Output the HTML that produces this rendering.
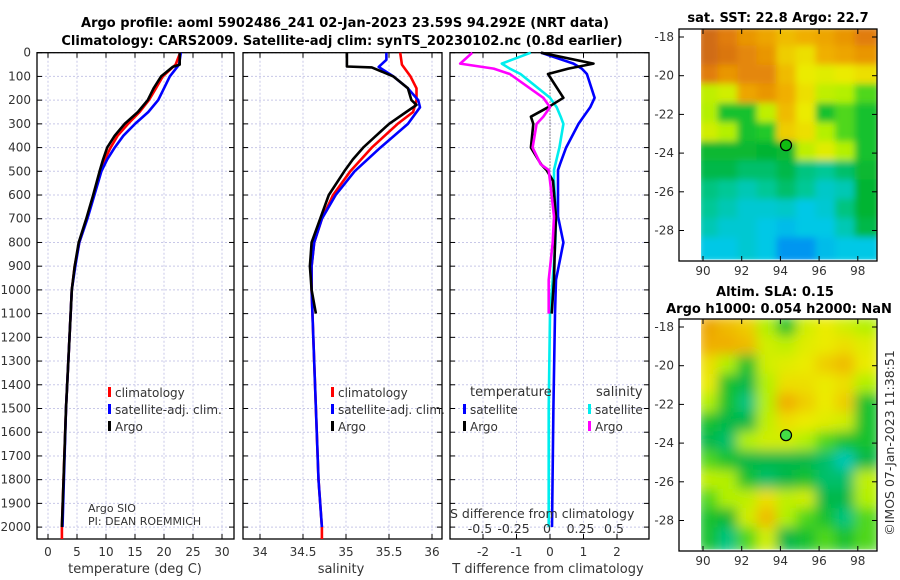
<!DOCTYPE html>
<html><head><meta charset="utf-8"><style>
body{margin:0;background:#fff;width:900px;height:580px;overflow:hidden}
svg{display:block;font-family:"DejaVu Sans","Liberation Sans",sans-serif}
.t{font-size:12px;fill:#333}
.b{font-weight:bold;font-size:13px;fill:#000}
.g{stroke:#c8c8e8;stroke-width:1;stroke-dasharray:2,2}
</style></head><body>
<svg id="c" width="900" height="580">
<g>
<text class="b" x="345" y="27" text-anchor="middle">Argo profile: aoml 5902486_241 02-Jan-2023 23.59S 94.292E (NRT data)</text>
<text class="b" x="342" y="45" text-anchor="middle">Climatology: CARS2009. Satellite-adj clim: synTS_20230102.nc (0.8d earlier)</text>
</g>
</svg>
<script>
// ---------- data ----------
const tDepthArgo=[0,50,60,100,150,200,250,300,350,400,450,500,600,700,800,900,1000,1200,1500,2000];
const tArgo=[22.7,22.7,21.5,19.5,18.2,17.2,15.5,13.2,11.5,10.2,9.5,8.9,7.8,6.6,5.3,4.6,4.1,3.7,3.1,2.4];
const tDepthClim=[0,50,100,150,200,250,300,350,400,450,500,600,700,800,900,1000,1200,1500,2000,2050];
const tClim=[22.8,22.0,19.8,18.6,17.4,15.8,13.8,12.0,10.8,9.8,9.0,7.9,6.7,5.4,4.6,4.1,3.7,3.1,2.4,2.4];
const tDepthSat=[0,50,100,150,200,250,300,350,400,450,500,600,700,800,900,1000,1200,1500,2000];
const tSat=[22.9,22.6,21.0,20.0,19.0,17.3,15.0,13.0,11.5,10.2,9.2,8.0,6.8,5.4,4.7,4.1,3.7,3.1,2.5];
const sDepthArgo=[0,58,62,100,150,200,220,250,300,350,400,450,500,600,700,800,900,1000,1100];
const sArgo=[35.01,35.01,35.3,35.55,35.72,35.76,35.82,35.7,35.5,35.35,35.2,35.08,34.98,34.8,34.7,34.6,34.58,34.6,34.65];
const sDepthClim=[0,50,100,150,200,250,300,400,500,600,700,800,900,1000,1200,1500,1800,2000,2050];
const sClim=[35.63,35.65,35.75,35.82,35.82,35.78,35.6,35.3,35.05,34.85,34.72,34.63,34.6,34.6,34.62,34.65,34.68,34.72,34.72];
const sDepthSat=[0,30,60,100,150,200,230,300,400,500,600,700,800,900,1000,1200,1500,1800,2000];
const sSat=[35.47,35.47,35.38,35.55,35.72,35.84,35.86,35.72,35.4,35.1,34.88,34.72,34.63,34.6,34.6,34.62,34.65,34.68,34.72];
const dDepth=[0,46,67,90,190,230,270,300,400,470,495,540,690,800,958,1100,1500,2000];
const dTSat=[-0.27,0.7,0.95,1.1,1.33,1.2,1.0,0.85,0.48,0.3,0.24,0.24,0.24,0.4,0.18,0.15,0.1,0.06];
const dTArgo=[-0.27,1.3,0.55,-0.06,0.4,-0.06,-0.57,-0.5,-0.57,-0.27,-0.1,0.09,0.18,0.15,0.12,0.05];
const dSSat=[-0.144,-0.36,-0.3,-0.22,0.0,0.05,0.08,0.1,0.07,0.04,0.03,0.03,0.045,0.04,0.02,0.0,-0.01,-0.01];
const dSArgo=[-0.58,-0.67,-0.42,-0.3,-0.05,0.0,-0.05,-0.1,-0.13,-0.07,-0.01,0.0,0.03,0.02,-0.01,-0.01];
const depthTicks=[0,100,200,300,400,500,600,700,800,900,1000,1100,1200,1300,1400,1500,1600,1700,1800,1900,2000];
const tTicks=[0,5,10,15,20,25,30];
const sTicks=[34,34.5,35,35.5,36];
const dtTicks=[-2,-1,0,1,2];
const dsTicks=[-0.5,-0.25,0,0.25,0.5];
const dsTickLabels=["-0.5","-0.25","0","0.25","0.5"];
const latTicks=[-18,-20,-22,-24,-26,-28];
const lonTicks=[90,92,94,96,98];
const sstGrid=[
[0.95,0.9,0.85,0.82,0.78,0.8,0.82,0.85,0.9],
[0.95,0.92,0.88,0.85,0.75,0.72,0.8,0.82,0.85],
[0.9,0.85,0.88,0.88,0.78,0.7,0.68,0.7,0.72],
[0.62,0.65,0.82,0.85,0.8,0.72,0.62,0.6,0.55],
[0.6,0.5,0.5,0.62,0.78,0.7,0.5,0.55,0.5],
[0.65,0.6,0.5,0.52,0.75,0.72,0.6,0.55,0.5],
[0.48,0.48,0.48,0.47,0.48,0.62,0.68,0.6,0.5],
[0.45,0.45,0.42,0.42,0.45,0.4,0.38,0.42,0.48],
[0.4,0.38,0.35,0.38,0.42,0.38,0.33,0.35,0.47],
[0.38,0.35,0.32,0.32,0.33,0.3,0.32,0.4,0.47],
[0.35,0.32,0.32,0.3,0.28,0.3,0.3,0.35,0.45],
[0.3,0.3,0.32,0.3,0.22,0.22,0.28,0.3,0.3]];
const slaGrid=[
[0.82,0.78,0.75,0.6,0.5,0.65,0.7,0.65,0.6],
[0.8,0.8,0.78,0.65,0.62,0.68,0.7,0.72,0.68],
[0.72,0.6,0.5,0.65,0.68,0.7,0.75,0.78,0.7],
[0.7,0.5,0.45,0.6,0.72,0.72,0.7,0.72,0.6],
[0.6,0.5,0.4,0.6,0.8,0.75,0.7,0.75,0.5],
[0.5,0.45,0.45,0.62,0.72,0.7,0.68,0.65,0.5],
[0.45,0.42,0.6,0.65,0.65,0.6,0.55,0.5,0.5],
[0.55,0.5,0.45,0.45,0.45,0.45,0.42,0.35,0.45],
[0.62,0.6,0.5,0.42,0.45,0.5,0.42,0.42,0.62],
[0.55,0.6,0.62,0.72,0.62,0.65,0.45,0.45,0.6],
[0.5,0.48,0.65,0.78,0.6,0.55,0.5,0.4,0.55],
[0.5,0.4,0.55,0.65,0.45,0.5,0.55,0.5,0.55]];
const argoLon=94.29, argoLat=-23.59;

// ---------- helpers ----------
const NS="http://www.w3.org/2000/svg", svg=document.getElementById('c');
function mk(tag,at,parent){const e=document.createElementNS(NS,tag);for(const k in at)e.setAttribute(k,at[k]);(parent||svg).appendChild(e);return e;}
function txt(s,x,y,cls,anchor,parent){const e=mk('text',{x:x,y:y,class:cls||'t','text-anchor':anchor||'middle'},parent);e.textContent=s;return e;}
const top0=52.7, yTop=52.7, yBot=539;
const yD=d=>top0+d*0.2372;
const xT=v=>48+v*5.8;
const xS=v=>260+(v-34)*86;
const xDT=v=>550+v*33.5;
const xDS=v=>550+v*134;

function panel(name,x0,x1,xticks,xf,labels,showY){
  const g=mk('g',{});
  
  
  depthTicks.forEach(d=>{mk('line',{x1:x0,x2:x1,y1:yD(d),y2:yD(d),class:'g'},g);
    mk('line',{x1:x0,x2:x0+5,y1:yD(d),y2:yD(d),stroke:'#000'},g);mk('line',{x1:x1-5,x2:x1,y1:yD(d),y2:yD(d),stroke:'#000'},g);
    if(showY)txt(String(d),31,yD(d)+4,'t','end',g);});
  xticks.forEach((v,i)=>{const x=xf(v);mk('line',{x1:x,x2:x,y1:yTop,y2:yBot,class:'g'},g);
    mk('line',{x1:x,x2:x,y1:yBot-5,y2:yBot,stroke:'#000'},g);mk('line',{x1:x,x2:x,y1:yTop,y2:yTop+5,stroke:'#000'},g);
    if(labels)txt(labels[i],x,556,'t','middle',g);});
  mk('rect',{x:x0,y:yTop,width:x1-x0,height:yBot-yTop,fill:'none',stroke:'#000','stroke-width':1.3},g);
  return g;
}
function line(g,name,xs,ds,xf,color,w){
  const p=mk('polyline',{fill:'none',stroke:color,'stroke-width':w||2.6,'stroke-linejoin':'round',points:xs.map((v,i)=>xf(v).toFixed(1)+','+yD(ds[i]).toFixed(1)).join(' ')},g);
  
  
}
function legend(g,x,y,items){items.forEach((it,i)=>{mk('rect',{x:x,y:y+i*17-8,width:3,height:10,fill:it[1]},g);txt(it[0],x+7,y+i*17+2,'t','start',g);});}

// ---------- panel 1 ----------
const p1=panel('temperature-panel',37,234,tTicks,xT,tTicks.map(String),true);
line(p1,'temp-climatology',tClim,tDepthClim,xT,'#f00');
line(p1,'temp-satellite',tSat,tDepthSat,xT,'#00f');
line(p1,'temp-argo',tArgo,tDepthArgo,xT,'#000');
legend(p1,108,395,[['climatology','#f00'],['satellite-adj. clim.','#00f'],['Argo','#000']]);
txt('Argo SIO',88,512,'t','start',p1).style.fontSize='11px';
txt('PI: DEAN ROEMMICH',88,525,'t','start',p1).style.fontSize='11px';
txt('temperature (deg C)',135,573,'t','middle',p1).style.fontSize='13px';

// ---------- panel 2 ----------
const p2=panel('salinity-panel',243,442,sTicks,xS,sTicks.map(String),false);
line(p2,'sal-climatology',sClim,sDepthClim,xS,'#f00');
line(p2,'sal-satellite',sSat,sDepthSat,xS,'#00f');
line(p2,'sal-argo',sArgo,sDepthArgo,xS,'#000');
legend(p2,331,395,[['climatology','#f00'],['satellite-adj. clim.','#00f'],['Argo','#000']]);
txt('salinity',341,573,'t','middle',p2).style.fontSize='13px';

// ---------- panel 3 ----------
const p3=panel('difference-panel',450,649,dtTicks,xDT,null,false);
dtTicks.forEach(v=>{if(v!==0)txt(String(v),xDT(v),556,'t','middle',p3);});
txt('0',xDT(0),556,'t','middle',p3);
mk('line',{x1:550,x2:550,y1:yD(80),y2:yD(700),stroke:'#333','stroke-dasharray':'1,2'},p3);
line(p3,'t-diff-satellite',dTSat,dDepth.slice(0,dTSat.length),xDT,'#00f');
line(p3,'s-diff-satellite',dSSat,dDepth.slice(0,dSSat.length),xDS,'#0ee');
line(p3,'t-diff-argo',dTArgo,dDepth.slice(0,dTArgo.length),xDT,'#000');
line(p3,'s-diff-argo',dSArgo,dDepth.slice(0,dSArgo.length),xDS,'#f0f');
txt('temperature',470,396,'t','start',p3).style.fontSize='13px';
txt('salinity',596,396,'t','start',p3).style.fontSize='13px';
legend(p3,463,412,[['satellite','#00f'],['Argo','#000']]);
legend(p3,588,412,[['satellite','#0ee'],['Argo','#f0f']]);
txt('S difference from climatology',450,518,'t','start',p3).style.fontSize='12.5px';
dsTicks.forEach((v,i)=>txt(dsTickLabels[i],xDS(v)-3,533,'t','middle',p3).style.fontSize='12.5px');
txt('T difference from climatology',548,573,'t','middle',p3).style.fontSize='13px';

// ---------- maps ----------
function cmap(v){const st=[[0.1,[0,60,255]],[0.22,[0,150,240]],[0.3,[0,200,230]],[0.38,[0,200,150]],[0.47,[0,180,50]],[0.53,[40,205,40]],[0.6,[180,240,0]],[0.7,[235,235,0]],[0.8,[240,175,0]],[0.9,[225,125,10]],[1.0,[190,90,30]]];
  if(v<=st[0][0])return 'rgb('+st[0][1]+')';
  for(let i=1;i<st.length;i++)if(v<=st[i][0]){const a=st[i-1],b=st[i],f=(v-a[0])/(b[0]-a[0]);return 'rgb('+a[1].map((c,k)=>Math.round(c+(b[1][k]-c)*f)).join(',')+')';}
  return 'rgb(190,90,30)';}
function map(name,grid,boxTop,boxBot,lat18,filt){
  const g=mk('g',{});
  
  
  const pxd=19.35, xL=lon=>703+(lon-90)*pxd, yL=lat=>lat18+(-18-lat)*pxd;
  const dataTop=yL(-17.6), x0=xL(89.9), x1=877;
  const cg=mk('g',{'clip-path':'url(#clip'+name+')'},g);
  const cp=mk('clipPath',{id:'clip'+name},g);mk('rect',{x:x0,y:dataTop,width:x1-x0,height:yL(-29.5)-dataTop},cp);
  const inner=mk('g',{filter:'url(#'+filt+')'},cg);
  const rows=grid.length, cols=grid[0].length, ch=(yL(-29.5)-dataTop)/rows, cw=(x1-x0)/cols;
  grid.forEach((row,r)=>row.forEach((v,c)=>{
    const cell=mk('rect',{x:(x0+c*cw-3).toFixed(1),y:(dataTop+r*ch-3).toFixed(1),width:(cw+6).toFixed(1),height:(ch+6).toFixed(1),fill:cmap(v)},inner);
    
    
  }));
  mk('rect',{x:679,y:boxTop,width:198,height:boxBot-boxTop,fill:'none',stroke:'#000','stroke-width':1.3},g);
  latTicks.forEach(l=>{mk('line',{x1:679,x2:684,y1:yL(l),y2:yL(l),stroke:'#000'},g);mk('line',{x1:872,x2:877,y1:yL(l),y2:yL(l),stroke:'#000'},g);txt(String(l),674,yL(l)+4,'t','end',g);});
  lonTicks.forEach(l=>{mk('line',{x1:xL(l),x2:xL(l),y1:boxBot-5,y2:boxBot,stroke:'#000'},g);mk('line',{x1:xL(l),x2:xL(l),y1:boxTop,y2:boxTop+5,stroke:'#000'},g);txt(String(l),xL(l),boxBot+14,'t','middle',g);});
  const m=mk('circle',{cx:xL(argoLon),cy:yL(argoLat),r:5.5,fill:filt==='blur'?'#4d4':'#1b1',stroke:'#000','stroke-width':1.2},g);
  
  
  return g;
}
const defs=mk('defs',{});
const f=mk('filter',{id:'blur',x:'-5%',y:'-5%',width:'110%',height:'110%'},defs);mk('feGaussianBlur',{stdDeviation:6},f);
const f2=mk('filter',{id:'blur2',x:'-5%',y:'-5%',width:'110%',height:'110%'},defs);mk('feGaussianBlur',{stdDeviation:3.5},f2);
map('sst-map',sstGrid,29,261,37,'blur2');
map('sla-map',slaGrid,319,551,327,'blur');
const t1=txt('sat. SST: 22.8 Argo: 22.7',778,22,'b','middle');
const t2=txt('Altim. SLA: 0.15',775,296,'b','middle');
const t3=txt('Argo h1000: 0.054 h2000: NaN',779,313,'b','middle');
const cr=txt('©IMOS 07-Jan-2023 11:38:51',0,0,'t','middle');cr.setAttribute('transform','translate(894,443) rotate(-90)');cr.style.fontSize='12.5px';


</script>
</body></html>
